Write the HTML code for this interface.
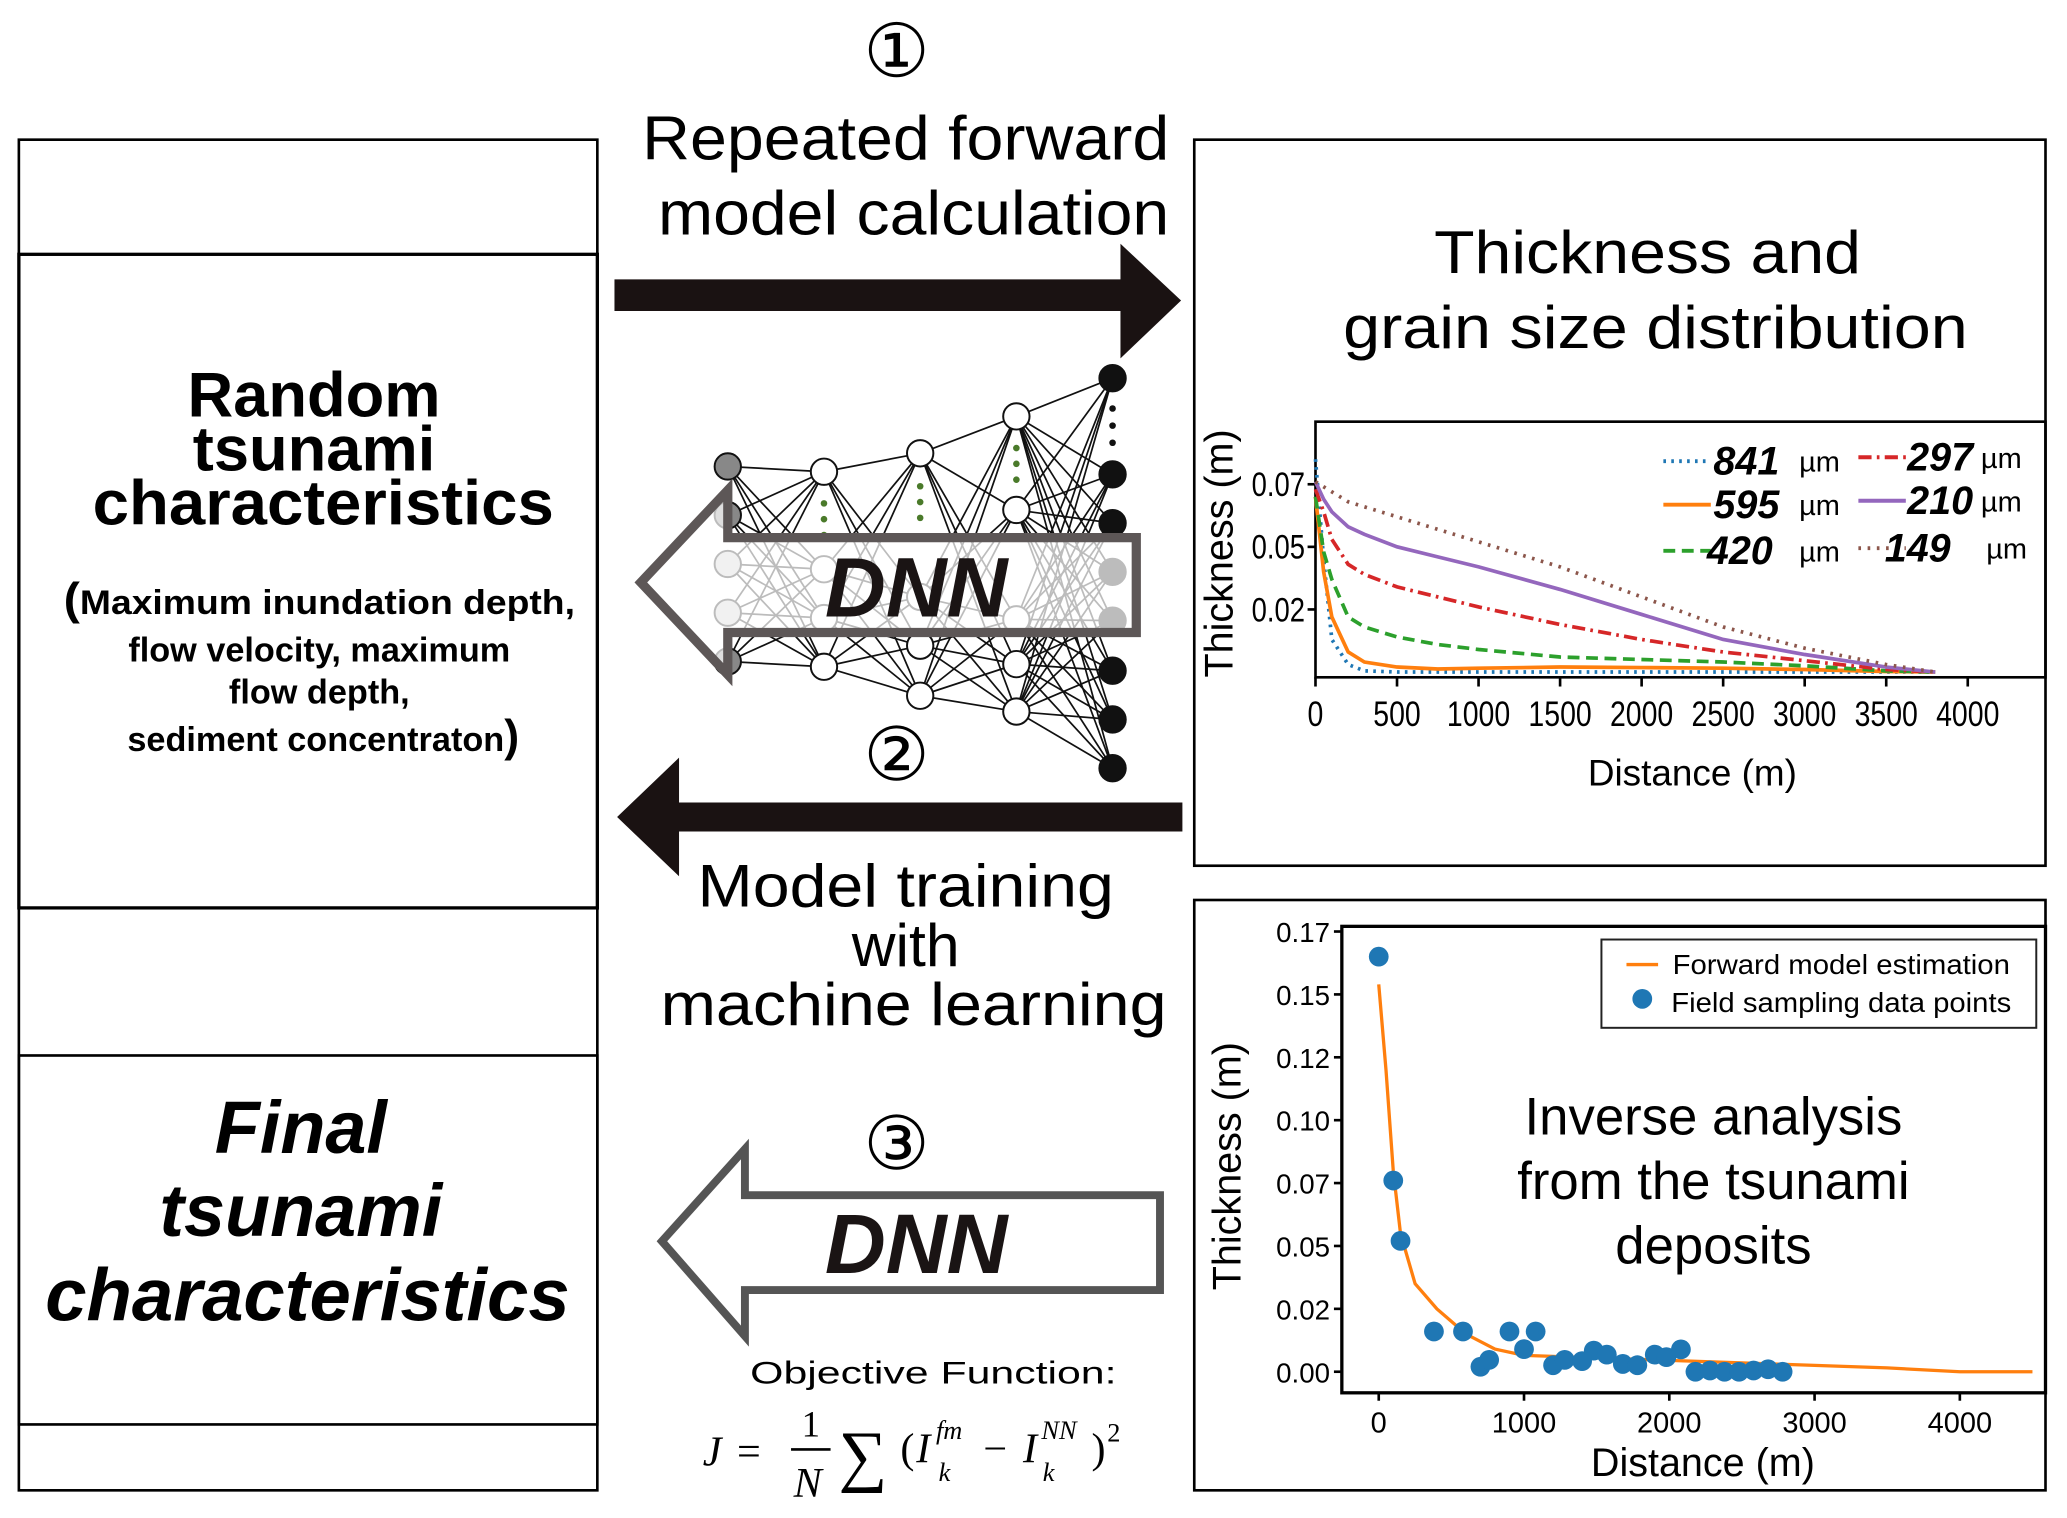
<!DOCTYPE html>
<html><head><meta charset="utf-8"><style>
html,body{margin:0;padding:0;background:#fff}
svg{display:block;font-family:"Liberation Sans",sans-serif}
.serif,.serif text{font-family:"Liberation Serif","DejaVu Serif",serif}
</style></head><body>
<svg id="root" width="2067" height="1518" viewBox="0 0 1568 1152" xmlns="http://www.w3.org/2000/svg">
<g fill="none" stroke="#000">
<rect x="14" y="106" width="439" height="1025" stroke-width="2"/>
<rect x="14" y="193" width="439" height="496" stroke-width="2.5"/>
<rect x="14" y="801" width="439" height="280" stroke-width="2"/>
</g>
<g font-weight="bold" font-size="48" text-anchor="middle">
<text x="238" y="316">Random</text><text x="238" y="357">tsunami</text><text x="245" y="398" textLength="350" lengthAdjust="spacingAndGlyphs">characteristics</text>
</g>
<g font-weight="bold" font-size="26" text-anchor="middle">
<text x="242" y="466" textLength="388" lengthAdjust="spacingAndGlyphs"><tspan font-size="34">(</tspan>Maximum inundation depth,</text>
<text x="242" y="502">flow velocity, maximum</text>
<text x="242" y="534">flow depth,</text>
<text x="245" y="570"><tspan>sediment concentraton</tspan><tspan font-size="34">)</tspan></text>
</g>
<g font-weight="bold" font-style="italic" font-size="56" text-anchor="middle">
<text x="228" y="875">Final</text><text x="228" y="938">tsunami</text><text x="233" y="1002" textLength="398" lengthAdjust="spacingAndGlyphs">characteristics</text>
</g>
<g class="serif" font-size="56" text-anchor="middle">
<text x="680" y="58">①</text>
<text x="680" y="592">②</text>
<text x="680" y="887">③</text>
</g>
<g font-size="47" text-anchor="middle">
<text x="687" y="121" textLength="400" lengthAdjust="spacingAndGlyphs">Repeated forward</text><text x="693" y="178" textLength="388" lengthAdjust="spacingAndGlyphs">model calculation</text>
</g>
<polygon fill="#1a1212" points="466,212 850,212 850,185 896,228 850,272 850,236 466,236"/>
<polygon fill="#1a1212" points="897,609 515,609 515,575 468,620 515,665 515,631 897,631"/>
<g font-size="46" text-anchor="middle">
<text x="687" y="688" textLength="316" lengthAdjust="spacingAndGlyphs">Model training</text><text x="687" y="733">with</text><text x="693" y="778" textLength="384" lengthAdjust="spacingAndGlyphs">machine learning</text>
</g>
<g id="net"></g>
<polygon fill="#fff" fill-opacity="0.72" stroke="#5d5757" stroke-width="7" points="486,442 552,372 552,408 862,408 862,480 552,480 552,512"/>
<text x="695" y="468" font-size="64" font-weight="bold" font-style="italic" text-anchor="middle" fill="#1a1414">DNN</text>
<polygon fill="#fff" stroke="#555" stroke-width="6" points="502,942 565,872 565,907 880,907 880,979 565,979 565,1014"/>
<text x="695" y="966" font-size="64" font-weight="bold" font-style="italic" text-anchor="middle" fill="#1a1414">DNN</text>
<text x="708" y="1050" font-size="24" text-anchor="middle" textLength="278" lengthAdjust="spacingAndGlyphs">Objective Function:</text>
<g class="serif" font-style="italic" font-size="32">
<text x="533" y="1112">J</text><text x="559" y="1112" font-style="normal">=</text>
<text x="608" y="1090" font-style="normal" font-size="28">1</text><line x1="600" y1="1100" x2="630" y2="1100" stroke="#000" stroke-width="2"/>
<text x="602" y="1136" font-size="32">N</text>
<text x="636" y="1122" font-style="normal" font-size="52">∑</text>
<text x="683" y="1110" font-style="normal">(</text><text x="695" y="1110">I</text><text x="710" y="1092" font-size="20">fm</text><text x="712" y="1124" font-size="20">k</text>
<text x="746" y="1110" font-style="normal">−</text><text x="776" y="1110">I</text><text x="790" y="1092" font-size="20">NN</text><text x="791" y="1124" font-size="20">k</text>
<text x="828" y="1110" font-style="normal">)</text><text x="840" y="1094" font-style="normal" font-size="20">2</text>
</g>
<rect x="906" y="106" width="646" height="551" fill="none" stroke="#000" stroke-width="2"/>
<g font-size="46" text-anchor="middle">
<text x="1250" y="207" textLength="324" lengthAdjust="spacingAndGlyphs">Thickness and</text><text x="1256" y="264" textLength="474" lengthAdjust="spacingAndGlyphs">grain size distribution</text>
</g>
<g id="chart1"></g>
<rect x="906" y="683" width="646" height="448" fill="none" stroke="#000" stroke-width="2"/>
<g id="chart2"></g>
</svg>
<script>
// ---------- Chart 1 data ----------
const c1Ticks = [0, 500, 1000, 1500, 2000, 2500, 3000, 3500, 4000];
const c1YTicks = [0.025, 0.05, 0.075];
const c1YLabels = ["0.02", "0.05", "0.07"];
const c1Dist = [0, 50, 100, 200, 300, 500, 750, 1000, 1500, 2000, 2500, 3000, 3500, 3800];
const s841 = [0.085, 0.045, 0.013, 0.003, 0.0005, 0, 0, 0, 0, 0, 0, 0, 0, 0];
const s595 = [0.07, 0.04, 0.022, 0.008, 0.004, 0.002, 0.0012, 0.0015, 0.002, 0.0018, 0.0015, 0.001, 0.0002, 0];
const s420 = [0.07, 0.048, 0.037, 0.022, 0.018, 0.014, 0.011, 0.009, 0.006, 0.005, 0.004, 0.0025, 0.0005, 0];
const s297 = [0.073, 0.064, 0.053, 0.043, 0.039, 0.034, 0.03, 0.026, 0.019, 0.013, 0.008, 0.0045, 0.001, 0];
const s210 = [0.076, 0.069, 0.064, 0.058, 0.055, 0.05, 0.046, 0.042, 0.033, 0.023, 0.013, 0.007, 0.002, 0];
const s149 = [0.076, 0.074, 0.072, 0.068, 0.066, 0.062, 0.057, 0.052, 0.042, 0.03, 0.018, 0.0095, 0.003, 0];
const c1Names = ["841", "595", "420", "297", "210", "149"];
// ---------- Chart 2 data ----------
const c2XTicks = [0, 1000, 2000, 3000, 4000];
const c2YTicks = [0, 0.025, 0.05, 0.075, 0.1, 0.125, 0.15, 0.175];
const c2YLabels = ["0.00", "0.02", "0.05", "0.07", "0.10", "0.12", "0.15", "0.17"];
const fmDist = [0, 50, 100, 150, 250, 400, 600, 800, 1000, 1500, 2000, 2500, 3000, 3500, 4000, 4500];
const fmThick = [0.154, 0.12, 0.08, 0.055, 0.035, 0.025, 0.015, 0.009, 0.0065, 0.0055, 0.0045, 0.0035, 0.0025, 0.0015, 0, 0];
const fieldDist = [0, 100, 150, 380, 580, 700, 760, 900, 1000, 1080, 1200, 1280, 1400, 1480, 1570, 1680, 1780, 1900, 1980, 2080, 2180, 2280, 2380, 2480, 2580, 2680, 2780];
const fieldThick = [0.165, 0.076, 0.052, 0.016, 0.016, 0.002, 0.0047, 0.016, 0.009, 0.016, 0.0026, 0.0047, 0.0042, 0.0084, 0.0068, 0.0031, 0.0026, 0.0068, 0.0058, 0.0089, 0, 0.0005, 0, 0, 0.0005, 0.001, 0];

const NS = "http://www.w3.org/2000/svg";
function mk(tag, attrs, parent, txt) {
  const e = document.createElementNS(NS, tag);
  for (const k in attrs) e.setAttribute(k, attrs[k]);
  if (txt !== undefined) e.textContent = txt;
  parent.appendChild(e);
  return e;
}

(function () {
  const g = document.getElementById('net');
  const layers = [
    { x: 552, ys: [354, 391, 428, 465, 502], fill: ['#888', '#888', '#ccc', '#ccc', '#888'] },
    { x: 625, ys: [358, 432, 469, 506], fill: null },
    { x: 698, ys: [344, 453, 490, 528], fill: null },
    { x: 771, ys: [316, 387, 470, 504, 540], fill: null },
    { x: 844, ys: [287, 360, 397, 434, 471, 509, 546, 583], fill: 'black' }
  ];
  for (let i = 0; i < layers.length - 1; i++) {
    const a = layers[i], b = layers[i + 1];
    a.ys.forEach(y1 => b.ys.forEach(y2 => {
      const l = mk('line', { x1: a.x, y1: y1, x2: b.x, y2: y2, stroke: '#111', 'stroke-width': 1.3 }, g);
      
      
    }));
  }
  layers.forEach((L, li) => L.ys.forEach((y, j) => {
    let f = '#fff';
    if (L.fill === 'black') f = '#111';
    else if (L.fill) f = L.fill[j];
    const c = mk('circle', { cx: L.x, cy: y, r: 10, fill: f, stroke: '#111', 'stroke-width': 1.5 }, g);
    
    
  }));
  [[625, 382], [625, 394], [625, 406], [698, 369], [698, 381], [698, 393], [771, 340], [771, 352], [771, 364]].forEach(p => {
    const d = mk('circle', { cx: p[0], cy: p[1], r: 2.5, fill: '#4a7a2a' }, g);
    
    
  });
  [310, 323, 336].forEach(y => {
    const d = mk('circle', { cx: 844, cy: y, r: 2.5, fill: '#111' }, g);
    
    
  });
})();

(function () {
  const g = document.getElementById('chart1');
  const L = 998, R = 1552, T = 320, B = 514;
  const x = d => 998 + d * (495 / 4000);
  const y = v => 510 - v * 1900;
  const ax = mk('rect', { x: L, y: T, width: R - L, height: B - T, fill: 'none', stroke: '#000', 'stroke-width': 2 }, g);
  
  
  c1Ticks.forEach(t => {
    const tk = mk('line', { x1: x(t), y1: B, x2: x(t), y2: B + 7, stroke: '#000', 'stroke-width': 2 }, g);
    
    
    const lb = mk('text', { x: x(t), y: 551, 'font-size': 27, 'text-anchor': 'middle', transform: `translate(${x(t)},0) scale(0.8,1) translate(${-x(t)},0)` }, g, String(t));
    
    
  });
  c1YTicks.forEach((t, i) => {
    const tk = mk('line', { x1: L - 6, y1: y(t), x2: L, y2: y(t), stroke: '#000', 'stroke-width': 2 }, g);
    
    
    const lb = mk('text', { x: 990, y: y(t) + 9, 'font-size': 26, 'text-anchor': 'end', transform: `translate(990,0) scale(0.8,1) translate(-990,0)` }, g, c1YLabels[i]);
    
    
  });
  const xt = mk('text', { x: 1284, y: 596, 'font-size': 28, 'text-anchor': 'middle' }, g, 'Distance (m)');
  
  
  const yt = mk('text', { x: 0, y: 0, 'font-size': 30, 'text-anchor': 'middle', transform: 'translate(935,420) rotate(-90)' }, g, 'Thickness (m)');
  
  
  const series = [s841, s595, s420, s297, s210, s149];
  const colors = ['#1f77b4', '#ff7f0e', '#2ca02c', '#d62728', '#9467bd', '#8c564b'];
  const dashes = ['2,4', '', '9,5', '10,4,2,4', '', '2,5'];
  series.forEach((s, i) => {
    const pts = s.map((v, j) => x(c1Dist[j]).toFixed(1) + ',' + y(v).toFixed(1)).join(' ');
    const p = mk('polyline', { points: pts, fill: 'none', stroke: colors[i], 'stroke-width': 2.8, 'stroke-dasharray': dashes[i] }, g);
    
    
  });
  const leg = [[1262, 350], [1262, 383], [1262, 418], [1410, 347], [1410, 380], [1410, 416]];
  const lx = [[1300, 1365], [1300, 1365], [1295, 1365], [1447, 1503], [1447, 1503], [1430, 1507]];
  leg.forEach((p, i) => {
    const ln = mk('line', { x1: p[0], y1: p[1], x2: p[0] + 36, y2: p[1], stroke: colors[i], 'stroke-width': 3, 'stroke-dasharray': dashes[i] }, g);
    
    
    const t = mk('text', { x: lx[i][0], y: p[1] + 10, 'font-size': 30, 'font-weight': 'bold', 'font-style': 'italic' }, g, c1Names[i]);
    
    
    const u = mk('text', { x: lx[i][1], y: p[1] + 8, 'font-size': 22 }, g, 'µm');
    
    
  });
})();

(function () {
  const g = document.getElementById('chart2');
  const L = 1018, R = 1552, T = 703, B = 1057;
  const x = d => 1046 + d * (441 / 4000);
  const y = v => 1041 - v * 1909;
  const ax = mk('rect', { x: L, y: T, width: R - L, height: B - T, fill: 'none', stroke: '#000', 'stroke-width': 2.5 }, g);
  
  
  c2XTicks.forEach(t => {
    const tk = mk('line', { x1: x(t), y1: B, x2: x(t), y2: B + 6, stroke: '#000', 'stroke-width': 2 }, g);
    
    
    const lb = mk('text', { x: x(t), y: 1087, 'font-size': 22, 'text-anchor': 'middle' }, g, String(t));
    
    
  });
  c2YTicks.forEach((t, i) => {
    const tk = mk('line', { x1: L - 6, y1: y(t), x2: L, y2: y(t), stroke: '#000', 'stroke-width': 2 }, g);
    
    
    const lb = mk('text', { x: 1009, y: y(t) + 8, 'font-size': 21, 'text-anchor': 'end' }, g, c2YLabels[i]);
    
    
  });
  const xt = mk('text', { x: 1292, y: 1120, 'font-size': 30, 'text-anchor': 'middle' }, g, 'Distance (m)');
  
  
  const yt = mk('text', { x: 0, y: 0, 'font-size': 30, 'text-anchor': 'middle', transform: 'translate(941,885) rotate(-90)' }, g, 'Thickness (m)');
  
  
  const pts = fmThick.map((v, j) => x(fmDist[j]).toFixed(1) + ',' + y(v).toFixed(1)).join(' ');
  const ln = mk('polyline', { points: pts, fill: 'none', stroke: '#ff7f0e', 'stroke-width': 2.5 }, g);
  
  
  fieldThick.forEach((v, j) => {
    const c = mk('circle', { cx: x(fieldDist[j]), cy: y(v), r: 7.5, fill: '#1f77b4' }, g);
    
    
  });
  const lb = mk('rect', { x: 1215, y: 713, width: 330, height: 67, fill: '#fff', stroke: '#222', 'stroke-width': 1.5 }, g);
  
  
  const l1 = mk('line', { x1: 1234, y1: 732, x2: 1258, y2: 732, stroke: '#ff7f0e', 'stroke-width': 2.5 }, g);
  
  
  const t1 = mk('text', { x: 1269, y: 739, 'font-size': 21, textLength: 256, lengthAdjust: 'spacingAndGlyphs' }, g, 'Forward model estimation');
  
  
  const c1 = mk('circle', { cx: 1246, cy: 758, r: 7.5, fill: '#1f77b4' }, g);
  
  
  const t2 = mk('text', { x: 1268, y: 768, 'font-size': 21, textLength: 258, lengthAdjust: 'spacingAndGlyphs' }, g, 'Field sampling data points');
  
  
  ['Inverse analysis', 'from the tsunami', 'deposits'].forEach((s, i) => {
    const t = mk('text', { x: 1300, y: 861 + i * 49, 'font-size': 40, 'text-anchor': 'middle' }, g, s);
    
    
  });
})();
</script>
</body></html>
